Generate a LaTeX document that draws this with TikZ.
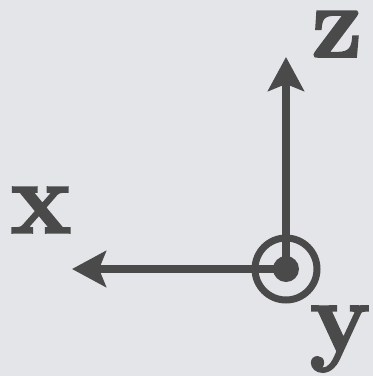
\documentclass[tikz,border=0pt]{standalone}
\usepackage{tikz}
\usetikzlibrary{arrows.meta}
\definecolor{bggray}{HTML}{E3E5E8}
\definecolor{axisgray}{HTML}{4A4A4A}
\newcommand{\heavy}[1]{\special{pdf:literal 2 Tr 2.2 w}#1\special{pdf:literal 0 Tr}}

\begin{document}
\begin{tikzpicture}[
  x=1pt, y=-1pt,
  axis/.style={draw=axisgray, line width=8pt, -{Stealth[length=34pt, width=36pt, inset=7pt]}},
  lbl/.style={text=axisgray, inner sep=0pt, font=\fontsize{102}{110}\selectfont\bfseries}
]
\fill[bggray] (0,0) rectangle (373,376);
\coordinate (o) at (286,269);
\coordinate (ztip) at (286,57);
\coordinate (xtip) at (72,269);
\draw[axis] (o) -- (ztip);
\draw[axis] (o) -- (xtip);
\node[circle, draw=axisgray, line width=7pt, minimum size=62pt, inner sep=0pt] (ring) at (o) {};
\node[circle, fill=axisgray, minimum size=26pt, inner sep=0pt] (dot) at (o) {};
\node[lbl] (zlbl) at (337,34) {\heavy{z}};
\node[lbl] (xlbl) at (41,210) {\heavy{x}};
\node[lbl] (ylbl) at (340,339) {\heavy{y}};
\end{tikzpicture}
\end{document}
